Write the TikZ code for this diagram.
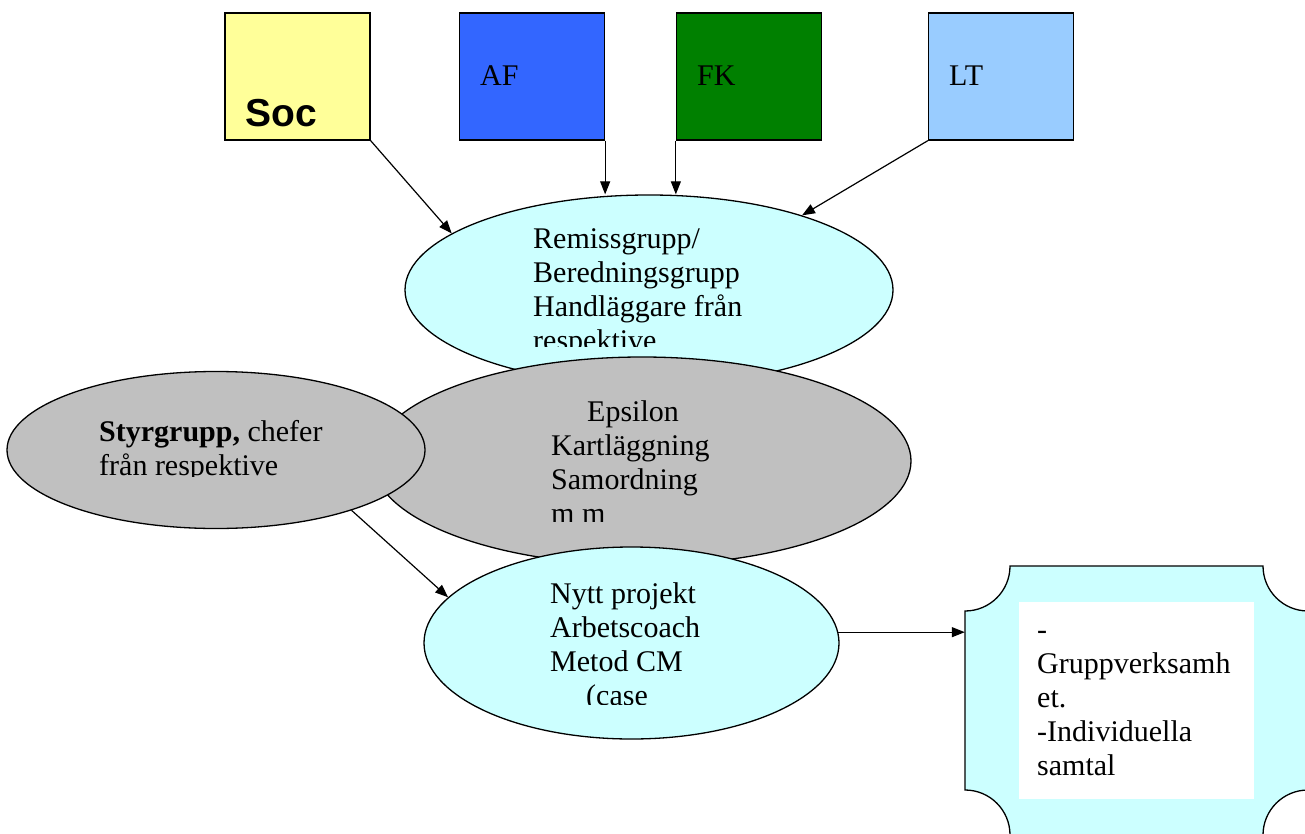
\documentclass[tikz,border=0pt]{standalone}
\usepackage{fontspec}
\setmainfont{Liberation Serif}
\newfontfamily\arialfont{Liberation Sans}
\usetikzlibrary{shapes.geometric,arrows.meta}
\definecolor{socyellow}{HTML}{FFFF99}
\definecolor{afblue}{HTML}{3366FF}
\definecolor{fkgreen}{HTML}{008000}
\definecolor{ltblue}{HTML}{99CCFF}
\definecolor{lightcyan}{HTML}{CCFFFF}
\definecolor{grayfill}{HTML}{C0C0C0}
\newcommand{\mylines}[1]{\begin{tabular}[t]{@{}l@{}}#1\end{tabular}}
\tikzset{
  orgbox/.style={draw=black, line width=1.3pt, minimum width=145pt, minimum height=127pt, inner sep=0pt},
  blob/.style={ellipse, draw=black, line width=1.3pt, inner sep=0pt},
  txt/.style={anchor=base west, inner sep=0pt, font=\fontsize{30}{34}\selectfont},
  conn/.style={line width=1.2pt, -{Triangle[length=13pt,width=10pt]}}
}
\begin{document}
\begin{tikzpicture}[x=1pt,y=-1pt]
\useasboundingbox[fill=white] (0,0) rectangle (1305,834);

% ellipses
\node[blob, fill=lightcyan, minimum width=488pt, minimum height=190pt] (remiss) at (649,290) {};
\begin{scope}
  \clip (520,215) rectangle (800,346);
  \node[txt] (remisst) at (533,248) {\mylines{Remissgrupp/\\Beredningsgrupp\\Handläggare från\\respektive}};
\end{scope}

\node[blob, fill=grayfill, minimum width=538pt, minimum height=208pt] (eps) at (642,461) {};
\begin{scope}
  \clip (540,390) rectangle (760,521);
  \node[txt] (epst) at (551,421) {\mylines{\hspace*{36pt}Epsilon\\Kartläggning\\Samordning\\m m}};
\end{scope}

\node[blob, fill=grayfill, minimum width=418pt, minimum height=157pt] (styr) at (216,450) {};
\begin{scope}
  \clip (90,410) rectangle (400,476);
  \node[txt] (styrt) at (99,441.5) {\mylines{\textbf{Styrgrupp,} chefer\\från respektive}};
\end{scope}

\node[blob, fill=lightcyan, minimum width=415pt, minimum height=192pt] (nytt) at (631.5,643) {};
\begin{scope}
  \clip (540,570) rectangle (760,704);
  \node[txt] (nyttt) at (550,603) {\mylines{Nytt projekt\\Arbetscoach\\Metod CM\\\hspace*{36pt}(case}};
\end{scope}

% plaque shape
\node[minimum width=343pt, minimum height=269pt, inner sep=0pt] (act) at (1136.5,700.5) {};
\filldraw[fill=lightcyan, draw=black, line width=1.3pt]
  (1010,566) -- (1263,566) arc[start angle=180, end angle=90, radius=45]
  -- (1308,790) arc[start angle=270, end angle=180, radius=45]
  -- (1010,835) arc[start angle=0, end angle=-90, radius=45]
  -- (965,611) arc[start angle=90, end angle=0, radius=45] -- cycle;
\fill[white] (1019,602) rectangle (1254,799);
\begin{scope}
  \clip (1019,602) rectangle (1254,793);
  \node[txt] (actt) at (1037,639) {\mylines{-\\Gruppverksamh\\et.\\-Individuella\\samtal}};
\end{scope}

% top boxes
\node[orgbox, fill=socyellow] (soc) at (297.5,76.5) {};
\node[orgbox, fill=afblue] (af) at (532,76.5) {};
\node[orgbox, fill=fkgreen] (fk) at (749,76.5) {};
\node[orgbox, fill=ltblue] (lt) at (1001,76.5) {};
\node[anchor=base west, inner sep=0pt, font=\arialfont\bfseries\fontsize{39}{44}\selectfont] (soct) at (245,127) {Soc};
\node[txt] (aft) at (480,86) {AF};
\node[txt] (fkt) at (697,86) {FK};
\node[txt] (ltt) at (949,86) {LT};

% connectors
\draw[conn] (soc.south east) -- (remiss.164);
\draw[conn] (af.south east) -- (af.south east |- remiss.north);
\draw[conn] (fk.south west) -- (fk.south west |- remiss.north);
\draw[conn] (lt.south west) -- (remiss.26);
\draw[conn] (styr.-24) -- (nytt.166);
\draw[conn] (nytt.3) -- (nytt.3 -| act.west);
\end{tikzpicture}
\end{document}
